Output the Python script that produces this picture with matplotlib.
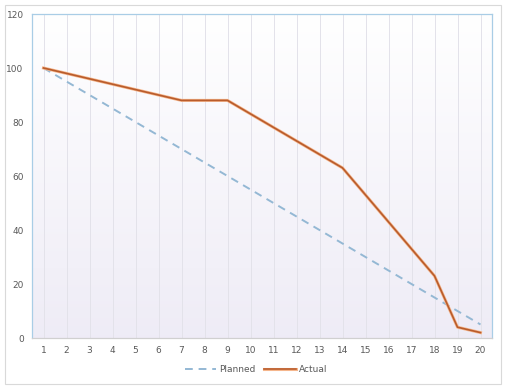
import numpy as np
import matplotlib.pyplot as plt
import matplotlib.patheffects as pe
from matplotlib.patches import Rectangle

days = list(range(1, 21))
planned = [100, 95, 90, 85, 80, 75, 70, 65, 60, 55, 50, 45, 40, 35, 30, 25, 20, 15, 10, 5]
actual = [100, 98, 96, 94, 92, 90, 88, 88, 88, 83, 78, 73, 68, 63, 53, 43, 33, 23, 4, 2]
y_ticks = [0, 20, 40, 60, 80, 100, 120]

fig = plt.figure(figsize=(5.08, 3.89), dpi=100)
fig.patch.set_facecolor('white')
fig.patches.append(Rectangle((5 / 508, 5 / 389), 496 / 508, 379 / 389, transform=fig.transFigure,
                             fill=False, edgecolor='#d9d9d9', lw=0.8))

ax = fig.add_axes([32 / 508, 51 / 389, 460 / 508, 324 / 389])
ax.set_xlim(0.5, 20.5)
ax.set_ylim(0, 120)

# soft gradient: white at the top, pale lavender at the bottom
top = np.array([1.0, 1.0, 1.0])
bottom = np.array([0.935, 0.925, 0.965])
t = np.linspace(0, 1, 256)[:, None, None]  # 0 at bottom row (origin='lower')
img = bottom + (top - bottom) * t
ax.imshow(img, extent=[0.5, 20.5, 0, 120], aspect='auto', origin='lower', zorder=0)

for d in days:
    ax.axvline(d, color='#e3e2ea', lw=0.7, zorder=1)

ax.plot(days, planned, color='#94b8d4', lw=1.4, dashes=(4, 3), zorder=3, label='Planned')
ax.plot(days, actual, color='#b95c2c', lw=1.2, zorder=4, label='Actual',
        path_effects=[pe.Stroke(linewidth=2.2, foreground='#f5b68c'), pe.Normal()])

ax.set_xticks(days)
ax.set_yticks(y_ticks)
ax.tick_params(length=0, colors='#595959', labelsize=6.5, pad=6)
for s in ['left', 'top', 'right']:
    ax.spines[s].set_color('#a9cde6')
    ax.spines[s].set_linewidth(0.9)
ax.spines['bottom'].set_color('#d0d0d0')
ax.spines['bottom'].set_linewidth(0.9)

leg = fig.legend(loc='center', bbox_to_anchor=(256 / 508, 1 - 370 / 389), ncol=2, frameon=False,
                 fontsize=6.5, handlelength=3.5, columnspacing=1.0, handletextpad=0.3)
for txt in leg.get_texts():
    txt.set_color('#595959')

fig.savefig('out.png', dpi=100)
